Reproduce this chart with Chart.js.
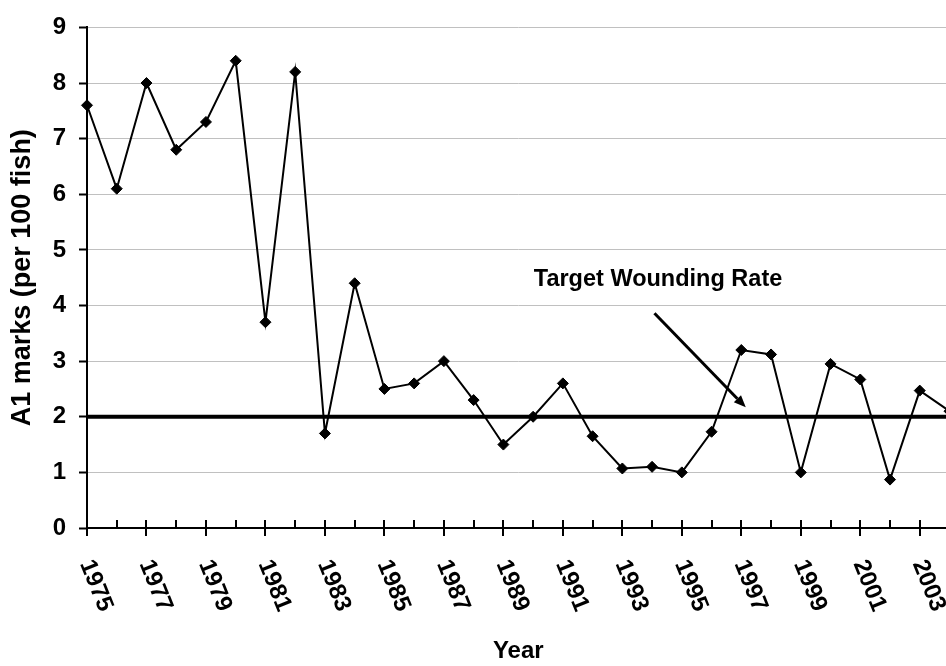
<!DOCTYPE html>
<html>
<head>
<meta charset="utf-8">
<script src="https://cdn.jsdelivr.net/npm/chart.js@4/dist/chart.umd.min.js"></script>
<style>
  html, body { margin: 0; padding: 0; background: #fff; overflow: hidden; }
  canvas { display: block; }
</style>
</head>
<body>
<canvas id="chart" width="956" height="666"></canvas>
<script>
// A1 wounding marks per 100 fish, 1975-2004
const years = ['1975','1976','1977','1978','1979','1980','1981','1982','1983','1984',
  '1985','1986','1987','1988','1989','1990','1991','1992','1993','1994',
  '1995','1996','1997','1998','1999','2000','2001','2002','2003','2004'];
const a1Marks = [7.6, 6.1, 8.0, 6.8, 7.3, 8.4, 3.7, 8.2, 1.7, 4.4,
  2.5, 2.6, 3.0, 2.3, 1.5, 2.0, 2.6, 1.65, 1.07, 1.1,
  1.0, 1.73, 3.2, 3.12, 1.0, 2.95, 2.67, 0.87, 2.47, 2.1];
const tickYears = ['1975','1977','1979','1981','1983','1985','1987','1989',
  '1991','1993','1995','1997','1999','2001','2003'];
const targetRate = 2;
const yTicks = [0, 1, 2, 3, 4, 5, 6, 7, 8, 9];

const FONT = '"Liberation Sans", Arial, sans-serif';

// label + arrow in data space (category index, value)
const note = { text: 'Target Wounding Rate', x: 19.2, y: 4.46 };
const arrow = { from: [19.08, 3.86], to: [22.15, 2.17] };

const extras = {
  id: 'extras',
  afterDatasetsDraw(chart) {
    const ctx = chart.ctx;
    const xs = chart.scales.x, ys = chart.scales.y;
    const area = chart.chartArea;
    ctx.save();

    // target line
    const ty = ys.getPixelForValue(targetRate);
    ctx.strokeStyle = '#000';
    ctx.lineWidth = 4;
    ctx.beginPath();
    ctx.moveTo(area.left, ty);
    ctx.lineTo(area.right, ty);
    ctx.stroke();

    // x tick marks: labelled years cross the axis
    ctx.lineWidth = 2;
    years.forEach((yr, i) => {
      const x = Math.round(xs.getPixelForValue(i));
      const down = tickYears.includes(yr) ? 8 : 0;
      ctx.beginPath();
      ctx.moveTo(x, area.bottom - 8);
      ctx.lineTo(x, area.bottom + down);
      ctx.stroke();
    });

    // rotated year labels
    ctx.fillStyle = '#000';
    ctx.font = 'bold 24px ' + FONT;
    ctx.textAlign = 'left';
    ctx.textBaseline = 'middle';
    tickYears.forEach(yr => {
      const x = xs.getPixelForValue(years.indexOf(yr));
      ctx.save();
      ctx.translate(x - 1, area.bottom + 33);
      ctx.rotate(68 * Math.PI / 180);
      ctx.fillText(yr, 0, 0);
      ctx.restore();
    });

    // annotation text
    ctx.font = 'bold 23.5px ' + FONT;
    ctx.textAlign = 'center';
    ctx.fillText(note.text, xs.getPixelForValue(note.x), ys.getPixelForValue(note.y));

    // arrow
    const x1 = xs.getPixelForValue(arrow.from[0]), y1 = ys.getPixelForValue(arrow.from[1]);
    const x2 = xs.getPixelForValue(arrow.to[0]), y2 = ys.getPixelForValue(arrow.to[1]);
    const ang = Math.atan2(y2 - y1, x2 - x1);
    const headLen = 12, headW = 5;
    const bx = x2 - headLen * Math.cos(ang), by = y2 - headLen * Math.sin(ang);
    ctx.lineWidth = 3;
    ctx.beginPath();
    ctx.moveTo(x1, y1);
    ctx.lineTo(bx, by);
    ctx.stroke();
    ctx.beginPath();
    ctx.moveTo(x2, y2);
    ctx.lineTo(bx + headW * Math.sin(ang), by - headW * Math.cos(ang));
    ctx.lineTo(bx - headW * Math.sin(ang), by + headW * Math.cos(ang));
    ctx.closePath();
    ctx.fill();

    ctx.restore();
  }
};

new Chart(document.getElementById('chart'), {
  type: 'line',
  data: {
    labels: years,
    datasets: [{
      data: a1Marks,
      borderColor: '#000',
      backgroundColor: '#000',
      borderWidth: 2,
      tension: 0,
      pointStyle: 'rectRot',
      pointRadius: 5.5,
      pointBorderWidth: 1,
      clip: false,
      fill: false
    }]
  },
  options: {
    responsive: false,
    animation: false,
    devicePixelRatio: 1,
    layout: { padding: { top: 17, right: 5, left: 0, bottom: 0 } },
    plugins: {
      legend: { display: false },
      tooltip: { enabled: false }
    },
    scales: {
      x: {
        offset: false,
        grid: { display: false, drawTicks: false },
        border: { display: true, color: '#000', width: 2 },
        ticks: { display: false },
        title: {
          display: true,
          text: 'Year',
          color: '#000',
          font: { family: FONT, size: 24, weight: 'bold' },
          padding: { top: 0, bottom: 0 }
        },
        afterFit(s) { s.height = 138; }
      },
      y: {
        min: 0,
        max: 9,
        afterBuildTicks(s) { s.ticks = yTicks.map(v => ({ value: v })); },
        grid: { color: '#c0c0c0', lineWidth: 1, tickColor: '#000', tickLength: 8, tickWidth: 2 },
        border: { display: true, color: '#000', width: 2 },
        ticks: {
          color: '#000',
          padding: 13,
          font: { family: FONT, size: 24, weight: 'bold' }
        },
        title: {
          display: true,
          text: 'A1 marks (per 100 fish)',
          color: '#000',
          font: { family: FONT, size: 27, weight: 'bold' },
          padding: { top: 6, bottom: 0 }
        },
        afterFit(s) { s.width = 87; }
      }
    }
  },
  plugins: [extras]
});
</script>
</body>
</html>
